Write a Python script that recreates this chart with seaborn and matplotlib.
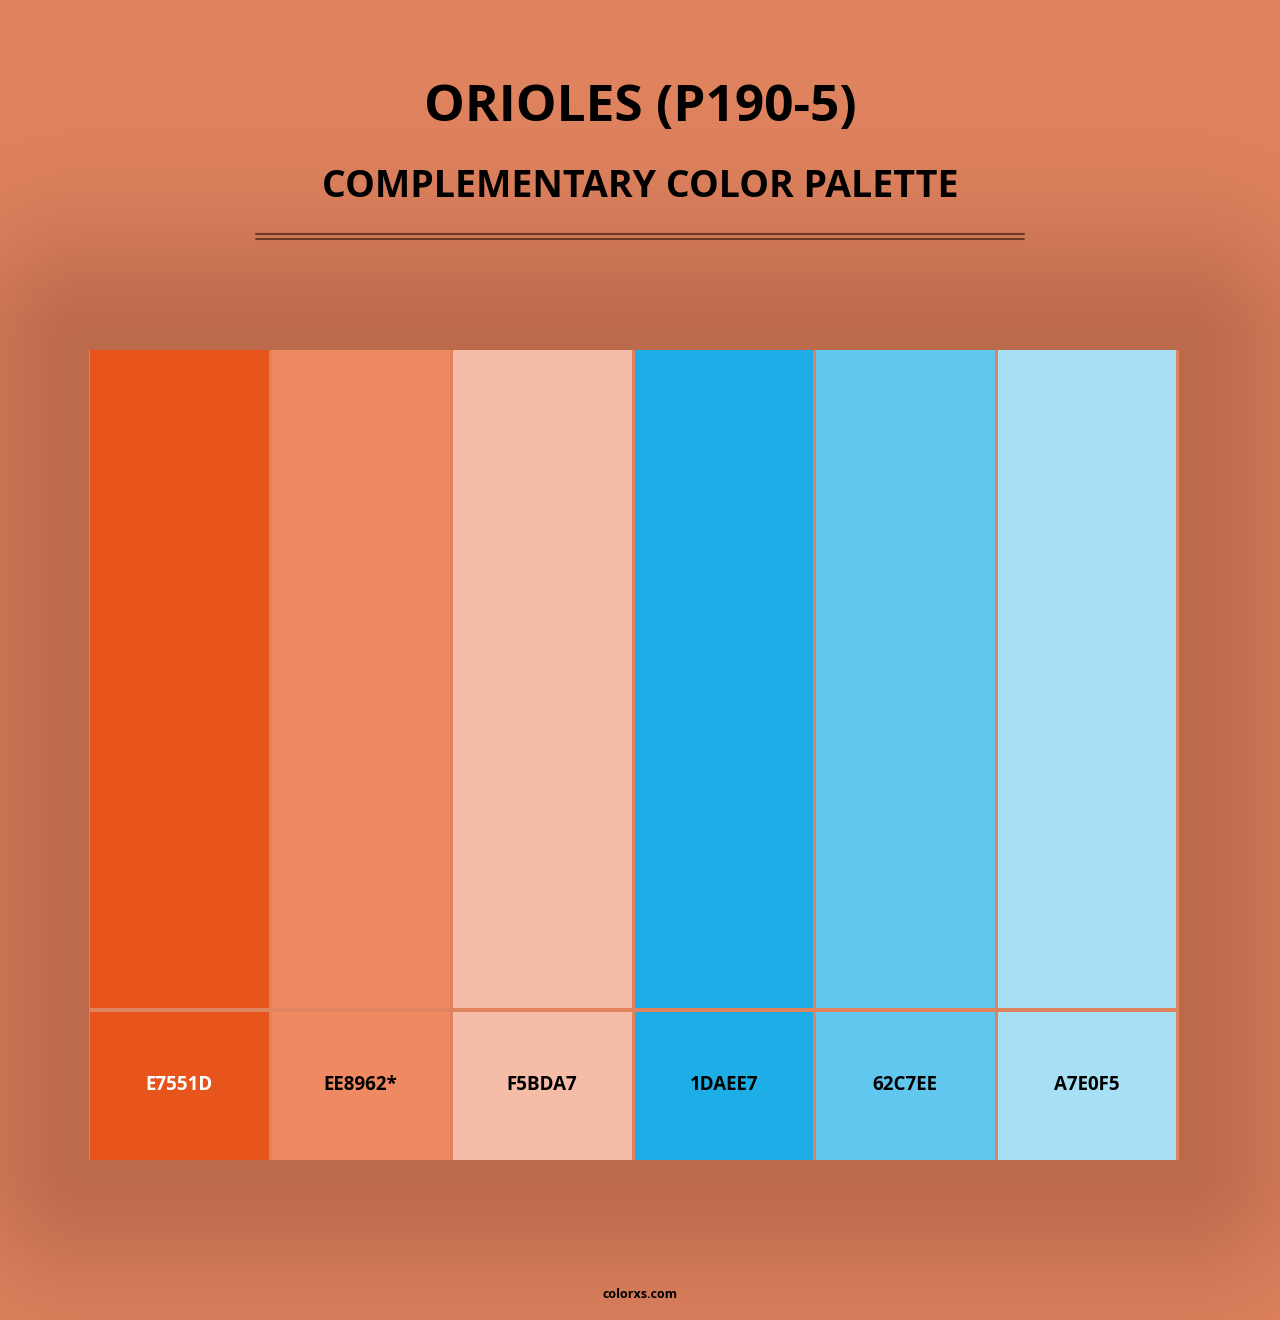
import numpy as np
import matplotlib
matplotlib.use("Agg")
import matplotlib.pyplot as plt
import seaborn as sns

sns.set_theme(style="white")
plt.rcParams['font.family'] = ['Open Sans', 'DejaVu Sans']

title = "ORIOLES (P190-5)"
subtitle = "COMPLEMENTARY COLOR PALETTE"
hex_codes = ["E7551D", "EE8962", "F5BDA7", "1DAEE7", "62C7EE", "A7E0F5"]
labels = ["E7551D", "EE8962*", "F5BDA7", "1DAEE7", "62C7EE", "A7E0F5"]
label_colors = ["white", "black", "black", "black", "black", "black"]

W, H = 1280, 1320
fig = plt.figure(figsize=(W/100, H/100), dpi=100)
ax = fig.add_axes([0, 0, 1, 1])
ax.set_xlim(0, W); ax.set_ylim(H, 0); ax.axis('off')

# background with shadow
bg = np.array([0xE0, 0x83, 0x5F]) / 255
sh = np.array([0xBC, 0x6A, 0x4C]) / 255
yy, xx = np.mgrid[0:H, 0:W]
dx = np.maximum(np.maximum(90 - xx, xx - 1178), 0)
dy = np.maximum(np.maximum(350 - yy, yy - 1160), 0)
d = np.sqrt(dx**2 + dy**2)
s = np.exp(-(d / 130.0) ** 2)
img = bg[None, None, :] * (1 - s[..., None]) + sh[None, None, :] * s[..., None]
ax.imshow(img, extent=[0, W, H, 0], zorder=0, interpolation='bilinear')

# palette frame
ax.bar(634, 1160 - 350, width=1090, bottom=350, color="#E0835F", linewidth=0, zorder=1)
left, step, w = 90, 181.5, 178.5
xs = [left + i * step + w / 2 for i in range(len(hex_codes))]
cols = ["#" + h for h in hex_codes]
ax.bar(xs, [658] * 6, width=w, bottom=350, color=cols, linewidth=0, zorder=2)
ax.bar(xs, [148] * 6, width=w, bottom=1012, color=cols, linewidth=0, zorder=2)
for x, lab, c in zip(xs, labels, label_colors):
    ax.text(x, 1085, lab, ha='center', va='center', fontsize=13.5, fontweight='bold', color=c, zorder=3)

ax.text(640, 108, title, ha='center', va='center', fontsize=37, fontweight='bold', color='black')
ax.text(640, 187, subtitle, ha='center', va='center', fontsize=27, fontweight='bold', color='black')
ax.plot([256, 1024], [234, 234], color="#6B3A25", lw=1.5)
ax.plot([256, 1024], [238.5, 238.5], color="#6B3A25", lw=1.5)
ax.text(640, 1295, "colorxs.com", ha='center', va='center', fontsize=9, fontweight='bold', color='black')

fig.savefig("out.png", dpi=100)
